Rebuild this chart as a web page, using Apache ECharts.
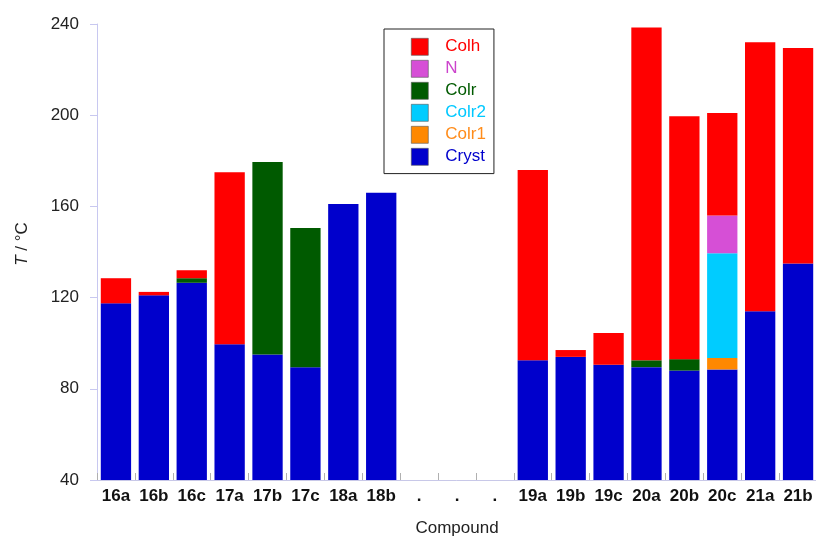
<!DOCTYPE html>
<html>
<head>
<meta charset="utf-8">
<script src="https://cdn.jsdelivr.net/npm/echarts@6/dist/echarts.min.js"></script>
<style>
  html, body { margin: 0; padding: 0; background: #fff; }
  #chart { width: 816px; height: 537px; }
</style>
</head>
<body>
<div id="chart"></div>
<script>
// Compounds along the x axis ('.' marks the skipped series)
const categories = ['16a','16b','16c','17a','17b','17c','18a','18b','.','.','.','19a','19b','19c','20a','20b','20c','21a','21b'];

// Upper limit (°C) of each phase for every compound; null = phase not observed
const crystTop = [117.5, 121, 126.5, 99.5, 95, 89.5, 161, 166, null, null, null, 92.5, 94, 90.5, 89.5, 88, 88.5, 114, 135];
const colr1Top = [null, null, null, null, null, null, null, null, null, null, null, null, null, null, null, null, 93.5, null, null];
const colr2Top = [null, null, null, null, null, null, null, null, null, null, null, null, null, null, null, null, 139.5, null, null];
const colrTop  = [null, null, 128.5, null, 179.5, 150.5, null, null, null, null, null, null, null, null, 92.5, 93, null, null, null];
const nTop     = [null, null, null, null, null, null, null, null, null, null, null, null, null, null, null, null, 156, null, null];
const colhTop  = [128.5, 122.5, 132, 175, null, null, null, null, null, null, null, 176, 97, 104.5, 238.5, 199.5, 201, 232, 229.5];

// Y axis ticks
const yTicks = [40, 80, 120, 160, 200, 240];

// Phases stacked from the bottom up
const phases = [
  { name: 'Cryst', tops: crystTop, color: '#0000cc' },
  { name: 'Colr1', tops: colr1Top, color: '#ff8800' },
  { name: 'Colr2', tops: colr2Top, color: '#00ccff' },
  { name: 'Colr',  tops: colrTop,  color: '#005a00' },
  { name: 'N',     tops: nTop,     color: '#d64fd6' },
  { name: 'Colh',  tops: colhTop,  color: '#ff0000' }
];

// Convert phase limits into stacked segment heights
const prev = categories.map(() => 0);
const series = phases.map(p => {
  const data = p.tops.map((t, i) => {
    if (t == null) return null;
    const h = t - prev[i];
    prev[i] = t;
    return h;
  });
  return {
    name: p.name,
    type: 'bar',
    stack: 'T',
    barWidth: '80%',
    itemStyle: { color: p.color },
    emphasis: { disabled: true },
    data: data
  };
});

const legendOrder = ['Colh', 'N', 'Colr', 'Colr2', 'Colr1', 'Cryst'];
const legendText = { Colh: '#ff0000', N: '#cc44cc', Colr: '#005a00', Colr2: '#00c8ff', Colr1: '#ff8c1a', Cryst: '#0000cc' };

const chart = echarts.init(document.getElementById('chart'), null, { renderer: 'canvas' });
chart.setOption({
  animation: false,
  textStyle: { fontFamily: 'Liberation Sans, Arial, sans-serif' },
  grid: { left: 97, right: -1, top: 24, bottom: 57, containLabel: false, outerBoundsMode: 'none' },
  legend: {
    orient: 'vertical',
    left: 384,
    top: 29,
    padding: [9, 8, 8, 27],
    itemWidth: 17,
    itemHeight: 17,
    itemGap: 4.4,
    icon: 'rect',
    borderColor: '#222',
    borderWidth: 1,
    backgroundColor: '#fff',
    selectedMode: false,
    itemStyle: { borderColor: '#555', borderWidth: 0.6 },
    textStyle: { fontSize: 17, padding: [0, 0, 0, 12] },
    data: legendOrder.map(n => ({ name: n, textStyle: { color: legendText[n], fontSize: 17, padding: [0, 0, 0, 12] } }))
  },
  xAxis: {
    type: 'category',
    data: categories,
    name: 'Compound',
    nameLocation: 'middle',
    nameGap: 40,
    nameTextStyle: { fontSize: 17, color: '#222' },
    axisLine: { lineStyle: { color: '#c8c8e8', width: 1 } },
    axisTick: { show: true, inside: true, length: 7, lineStyle: { color: '#b0b0b0' } },
    axisLabel: { interval: 0, fontSize: 17, fontWeight: 'bold', color: '#111', margin: 8 },
    splitLine: { show: false }
  },
  yAxis: {
    type: 'value',
    min: yTicks[0],
    max: yTicks[yTicks.length - 1],
    interval: 40,
    name: '{i|T} / °C',
    nameLocation: 'middle',
    nameGap: 66,
    nameRotate: 90,
    nameTextStyle: {
      fontSize: 17, color: '#222', padding: [0, 0, 0, 16],
      rich: { i: { fontStyle: 'italic', fontSize: 17, color: '#222' } }
    },
    axisLine: { show: true, lineStyle: { color: '#c8c8f0', width: 1 } },
    axisTick: { show: true, length: 7, lineStyle: { color: '#c8c8f0' } },
    axisLabel: { fontSize: 17, color: '#222', margin: 18 },
    splitLine: { show: false }
  },
  series: series
});
</script>
</body>
</html>
